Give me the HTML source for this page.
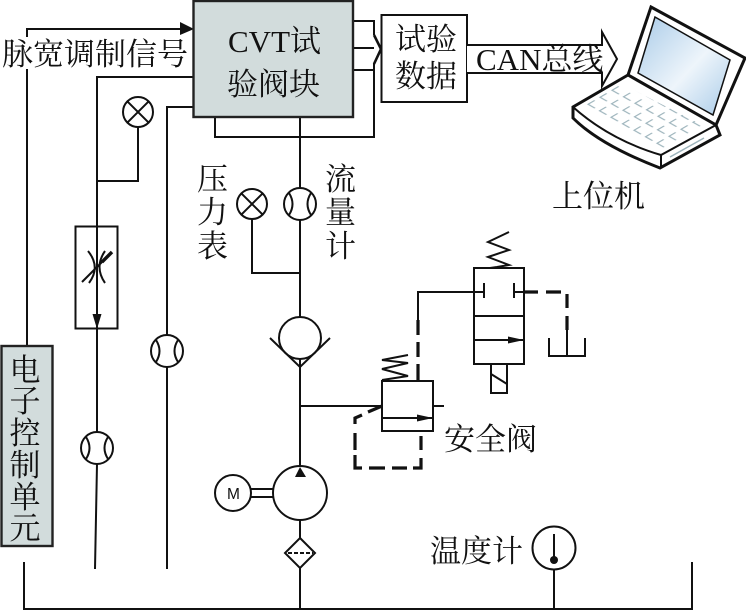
<!DOCTYPE html>
<html><head><meta charset="utf-8"><style>
html,body{margin:0;padding:0;background:#fff}
svg{display:block;filter:blur(.35px)}
text{font-family:"Liberation Serif","Noto Serif CJK SC",serif;font-size:31px;fill:#111}
.l{fill:none;stroke:#111;stroke-width:2}
.t{fill:none;stroke:#111;stroke-width:3.2}
.f{fill:#fff;stroke:#111;stroke-width:2}
.b{fill:#111;stroke:none}
</style></head><body>
<svg width="746" height="611" viewBox="0 0 746 611" xmlns="http://www.w3.org/2000/svg">
<defs>
<linearGradient id="sg" x1="0" y1="0" x2="1" y2="1"><stop offset="0" stop-color="#a9cbe8"/><stop offset=".55" stop-color="#eef5fb"/><stop offset="1" stop-color="#a9cbe8"/></linearGradient>
<pattern id="kb" width="1" height="1" patternUnits="userSpaceOnUse" patternTransform="matrix(11.5 6.5 -12 7 620 83)">
<path d="M.2 .3V.85H.8" fill="none" stroke="#9db4bc" stroke-width=".1"/>
</pattern>
<g id="fm"><circle r="16" class="f"/><path class="l" d="M-11-11Q-4 0-11 11M11-11Q4 0 11 11"/></g>
<g id="pg"><circle r="15" class="f"/><path class="l" d="M-10.6-10.6L10.6 10.6M10.6-10.6L-10.6 10.6"/></g>
</defs>

<!-- control lines -->
<path class="l" d="M27 346V29H182"/>
<path class="b" d="M180 22L194 29L180 35Z"/>
<rect x="3" y="37" width="185" height="32" fill="#fff"/>
<text x="2" y="65" textLength="186">脉宽调制信号</text>
<path class="l" d="M193 77H97V464L95 569"/>
<path class="l" d="M193 107H167V569"/>
<path class="l" d="M138 127V181H97"/>
<use href="#pg" x="138" y="112"/>
<rect x="75.500" y="226.500" width="42" height="102" class="l"/>
<path class="l" d="M88 251Q101 267 89 283M105 251Q94 267 105 283M82 282L104 260"/>
<path d="M102 262L112 252" stroke="#111" stroke-width="3.400" fill="none"/>
<path class="b" d="M92.500 314H101.500L97 329Z"/>
<use href="#fm" x="97" y="448"/>
<use href="#fm" x="167" y="351"/>

<!-- ECU -->
<rect x="1.500" y="346" width="51" height="200" fill="#d2dcdc" stroke="#222" stroke-width="2.400"/>
<text x="9.500" y="381">电</text><text x="9.500" y="412">子</text><text x="9.500" y="444">控</text><text x="9.500" y="476">制</text><text x="9.500" y="508">单</text><text x="9.500" y="539">元</text>

<!-- bottom tank line -->
<path class="l" d="M24 562V609H692V562"/>

<!-- main block -->
<path class="l" d="M215 117V137H374V63M374 35V21H353M353 48H374M353 70H374"/>
<path d="M374 35L381 49L374 64" fill="none" stroke="#111" stroke-width="2.600"/>
<path class="l" d="M300 117V320"/>
<rect x="193.500" y="1" width="159.500" height="116" fill="#d2dcdc" stroke="#222" stroke-width="2.400"/>
<text x="228" y="52">CVT试</text>
<text x="227" y="95">验阀块</text>
<rect x="381.500" y="15" width="85.500" height="87" class="f"/>
<text x="395" y="50">试验</text>
<text x="395" y="87">数据</text>

<path class="f" stroke-width="2" d="M467 45H602V32L617 59L602 86V73H467"/>
<text x="476" y="70">CAN总线</text>

<!-- laptop -->
<path d="M651 7L745 58L716 125L628 75Z" fill="#fff" stroke="#111" stroke-width="3"/>
<path d="M655 17L730 60L713 115L638 73Z" fill="url(#sg)" stroke="#111" stroke-width="1.500"/>
<path d="M628 75L573 107V118Q600 145 660 168L720 135L716 125Z" fill="#fff" stroke="#111" stroke-width="3"/>
<path d="M573 107Q610 140 661 155L716 125M661 155V168" class="l"/>
<path d="M670 157L704 138" stroke="#9db4bc" stroke-width="1.500" fill="none"/>
<path d="M620 83L706 127L663 150L585 105Z" fill="url(#kb)"/>
<text x="552" y="207">上位机</text>

<!-- gauges and vertical labels -->
<path class="l" d="M252 219V273H300"/>
<use href="#pg" x="252" y="204"/>
<use href="#fm" x="300" y="204"/>
<text x="197" y="190">压</text><text x="197" y="223">力</text><text x="197" y="257">表</text>
<text x="325" y="190">流</text><text x="325" y="223">量</text><text x="325" y="257">计</text>

<!-- check valve, pump -->
<path class="l" d="M300 320V466"/>
<circle cx="300" cy="338" r="21" class="f"/>
<path class="l" d="M270 338L300 367L330 338"/>
<path class="l" d="M251 489H273M251 497H273"/>
<circle cx="233" cy="493" r="18" class="f"/>
<text x="227" y="499" style="font-family:'Liberation Sans',sans-serif;font-size:15.500px">M</text>
<circle cx="300" cy="493" r="27" class="f"/>
<path class="b" d="M295 477H306L300 467Z"/>
<path class="l" d="M300 520V538M300 568V609"/>
<path class="f" d="M300 538L315 553L300 568L285 553Z"/>
<path d="M288 553H313" stroke="#111" stroke-width="2" stroke-dasharray="4 2" fill="none"/>

<!-- relief valve -->
<path class="l" d="M300 406H382"/>
<rect x="382" y="381" width="51" height="50" class="f"/>
<path class="l" d="M382 418H433M433 406H444"/>
<path class="b" d="M417 414.500L433 418L417 421.500Z"/>
<path class="l" d="M382 380L408 376L382 369L408 363L382 360L408 355"/>
<text x="444" y="450">安全阀</text>
<path class="t" d="M382 406L368 412M362 415L355 418V424M355 433V450M355 455V468H362M369 468H385M392 468H407M413 468H421V458M421 450V436"/>
<path class="t" d="M418 381V364M418 357V342M418 335V320"/>

<!-- directional valve -->
<path class="l" d="M418 320V292H484M484 283V298"/>
<rect x="474" y="268" width="50" height="96" fill="none" stroke="#111" stroke-width="2"/>
<path class="l" d="M474 316H524M474 340H524M514 283V298M514 292H524"/>
<path class="b" d="M508 336.500L524 340L508 343.500Z"/>
<path class="l" d="M497 267L490 268M497 267L509 265L488 257L509 250L488 242L509 232"/>
<rect x="491" y="364" width="16" height="29" class="l"/>
<path class="l" d="M491 374L507 384"/>
<path class="t" d="M524 292H538M546 292H561M567 294V308M567 316V330"/>
<path class="l" d="M567 330V356M549 338V356H585V338"/>

<!-- temperature -->
<text x="430" y="562">温度计</text>
<circle cx="554" cy="548" r="21.500" class="f"/>
<path class="l" d="M554 534V559M554 570V609"/>
<circle cx="554" cy="560" r="4" class="b"/>
</svg>
</body></html>
